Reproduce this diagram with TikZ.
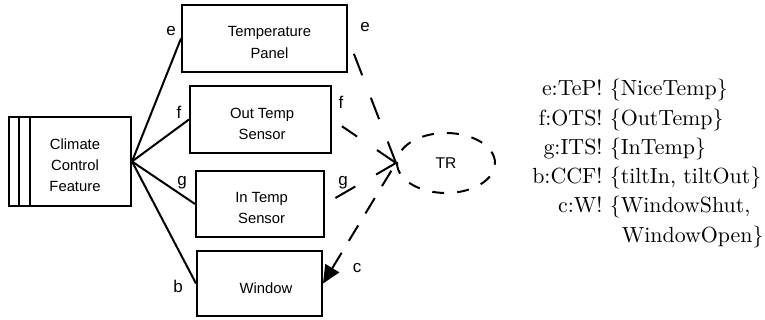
\documentclass[tikz,border=0pt]{standalone}
\usepackage{fontspec}
\setsansfont{Liberation Sans}
\usetikzlibrary{shapes.geometric, arrows.meta, positioning}

\begin{document}
\begin{tikzpicture}[
    x=0.5pt, y=-0.5pt,
    dombox/.style={rectangle, draw, line width=1pt, inner sep=0pt},
    boxtext/.style={align=center, inner sep=0pt, font=\sffamily\fontsize{7.4}{10.6}\selectfont},
    req/.style={ellipse, draw, line width=1pt, dash pattern=on 6pt off 6.5pt, minimum width=49pt, minimum height=30pt, inner sep=0pt, font=\sffamily\fontsize{7.8}{9}\selectfont},
    lbl/.style={inner sep=0pt, font=\sffamily\fontsize{8.5}{10}\selectfont},
    iface/.style={line width=1pt},
    refline/.style={line width=1pt, dash pattern=on 11.5pt off 12pt, shorten >=6pt},
    constrain/.style={line width=1pt, dash pattern=on 9pt off 7pt, dash phase=11.5pt, -{Triangle[length=9pt, width=8pt]}}
]
\useasboundingbox (0,0) rectangle (765,320);

% Machine (striped box)
\node[dombox, minimum width=61pt, minimum height=44.5pt] (ccf) at (70,161.5) {};
\draw[iface] ([xshift=5.5pt]ccf.north west) -- ([xshift=5.5pt]ccf.south west);
\draw[iface] ([xshift=11pt]ccf.north west) -- ([xshift=11pt]ccf.south west);
\node[boxtext] (ccftext) at ([shift={(2.5pt,-1.8pt)}]ccf.center) {Climate\\Control\\Feature};

% Problem domains
\node[dombox, minimum width=82.5pt, minimum height=33.5pt] (tp) at (264.5,38.5) {};
\node[dombox, minimum width=70.5pt, minimum height=33.5pt] (ots) at (260.5,119.5) {};
\node[dombox, minimum width=64pt, minimum height=33pt] (its) at (260,204) {};
\node[dombox, minimum width=62.5pt, minimum height=32.5pt] (win) at (259.5,283.5) {};
\node[boxtext] (tptext) at ([shift={(2.5pt,-2pt)}]tp.center) {Temperature\\Panel};
\node[boxtext] (otstext) at ([shift={(0.8pt,-2.2pt)}]ots.center) {Out Temp\\Sensor};
\node[boxtext] (itstext) at ([shift={(0.8pt,-2pt)}]its.center) {In Temp\\Sensor};
\node[boxtext] (wintext) at ([shift={(3.2pt,-2.2pt)}]win.center) {Window};

% Requirement
\node[req] (tr) at (446,163) {TR};

% Interfaces
\draw[iface] (ccf.east) -- (tp.west);
\draw[iface] (ccf.east) -- (ots.west);
\draw[iface] (ccf.east) -- (its.west);
\draw[iface] (ccf.east) -- (win.west);
\node[lbl] (le) at (171,31) {e};
\node[lbl] (lf) at (179,112) {f};
\node[lbl] (lg) at (182,183) {g};
\node[lbl] (lb) at (178,286) {b};

% Requirement references
\draw[refline] (tr.west) -- (tp.east);
\draw[refline] (tr.west) -- (ots.east);
\draw[refline] (tr.west) -- (its.east);
\draw[constrain] (tr.west) -- (win.east);
\node[lbl] (re) at (365,27) {e};
\node[lbl] (rf) at (341,102) {f};
\node[lbl] (rg) at (343,183) {g};
\node[lbl] (rc) at (357,268) {c};

% Shared phenomena
\node[anchor=north east, inner sep=0pt, font=\fontsize{10.95}{13.6}\selectfont] (decls) at (764,75) {\renewcommand{\arraystretch}{1.075}%
\begin{tabular}{@{}r@{ }l@{}}
e:TeP! & \{NiceTemp\}\\
f:OTS! & \{OutTemp\}\\
g:ITS! & \{InTemp\}\\
b:CCF! & \{tiltIn, tiltOut\}\\
c:W! & \{WindowShut,\\
 & \hspace{6pt}WindowOpen\}
\end{tabular}};

\end{tikzpicture}
\end{document}
